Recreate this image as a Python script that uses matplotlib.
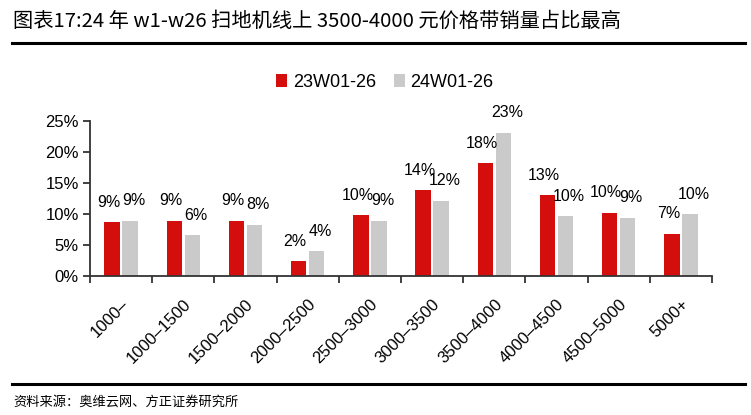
import numpy as np
import matplotlib
matplotlib.use("Agg")
import matplotlib.pyplot as plt
from matplotlib.lines import Line2D

plt.rcParams["font.family"] = ["Liberation Sans", "Noto Sans CJK SC", "DejaVu Sans"]

# ── Data ──────────────────────────────────────────────────────────────────────
categories = ["1000–", "1000–1500", "1500–2000", "2000–2500", "2500–3000",
              "3000–3500", "3500–4000", "4000–4500", "4500–5000", "5000+"]
series_names = ["23W01-26", "24W01-26"]
share_23 = [8.7, 8.9, 8.9, 2.4, 9.8, 13.8, 18.2, 13.0, 10.2, 6.8]
share_24 = [8.9, 6.6, 8.3, 4.0, 8.9, 12.1, 23.1, 9.6, 9.4, 9.95]
labels_23 = ["9%", "9%", "9%", "2%", "10%", "14%", "18%", "13%", "10%", "7%"]
labels_24 = ["9%", "6%", "8%", "4%", "9%", "12%", "23%", "10%", "9%", "10%"]
yticks = [0, 5, 10, 15, 20, 25]

title = "图表17:24 年 w1-w26 扫地机线上 3500-4000 元价格带销量占比最高"
source = "资料来源：奥维云网、方正证券研究所"

RED = "#D40D0D"
GRAY = "#CACACA"
W, H = 751, 415
CJK = ["Noto Sans CJK SC", "DejaVu Sans"]

fig = plt.figure(figsize=(W / 100, H / 100), dpi=100)

# axes placed in pixel coords: x 90→712, y 276 (0%) → 121 (25%)
ax = fig.add_axes([90 / W, 1 - 276 / H, (712 - 90) / W, (276 - 121) / H])

x = np.arange(len(categories))
bw, off = 0.25, 0.145
ax.bar(x - off, share_23, bw, color=RED, label=series_names[0])
ax.bar(x + off, share_24, bw, color=GRAY, label=series_names[1])

# value labels; nudged apart a little where the pairs collide
for xi, v, t in zip(x - off, share_23, labels_23):
    ax.annotate(t, (xi, v), xytext=(-2.5, 9), textcoords="offset points",
                ha="center", va="bottom", fontsize=11.5)
for xi, v, t in zip(x + off, share_24, labels_24):
    ax.annotate(t, (xi, v), xytext=(2.5, 9), textcoords="offset points",
                ha="center", va="bottom", fontsize=11.5)

ax.set_xlim(-0.5, len(categories) - 0.5)
ax.set_ylim(0, 25)
ax.set_yticks(yticks)
ax.set_yticklabels([f"{v}%" for v in yticks], fontsize=12)

ax.set_xticks(x)
ax.set_xticklabels(categories, rotation=45, ha="right", rotation_mode="anchor",
                   fontsize=12)
ax.tick_params(axis="x", length=0, pad=15)
ax.set_xticks(np.arange(len(categories) + 1) - 0.5, minor=True)
ax.tick_params(axis="x", which="minor", length=5, width=1.3, color="#333333")
ax.tick_params(axis="y", length=5, width=1.3, color="#333333", pad=3)

for s in ["top", "right"]:
    ax.spines[s].set_visible(False)
for s in ["left", "bottom"]:
    ax.spines[s].set_linewidth(1.3)
    ax.spines[s].set_color("#333333")

ax.legend(loc="center", bbox_to_anchor=(0.474, 1.25), ncol=2, frameon=False,
          fontsize=13, handlelength=0.6, handleheight=0.8, handletextpad=0.3,
          columnspacing=1.0)

# title, rules and source
fig.text(13 / W, 1 - 21 / H, title, fontsize=14.6, va="center", ha="left", family=CJK)
fig.add_artist(Line2D([12 / W, 745 / W], [1 - 43 / H] * 2, color="black", lw=2.2))
fig.add_artist(Line2D([12 / W, 745 / W], [1 - 384 / H] * 2, color="black", lw=2.2))
fig.text(13 / W, 1 - 402 / H, source, fontsize=9.5, va="center", ha="left", family=CJK)

fig.savefig("out.png", dpi=100)
